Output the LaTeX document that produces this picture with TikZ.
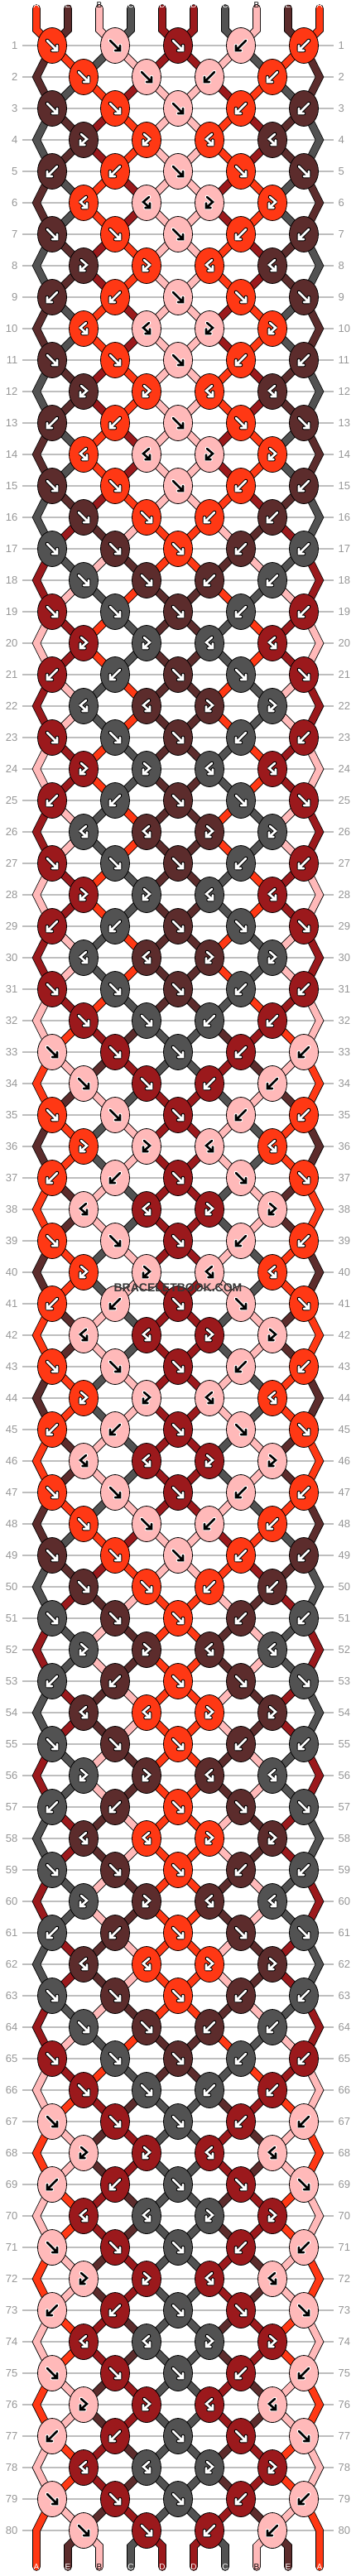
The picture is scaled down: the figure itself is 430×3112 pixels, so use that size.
\documentclass[tikz,border=0pt]{standalone}
\usepackage{fontspec}
\setmainfont{Liberation Sans}
\usepackage{xcolor}
\usetikzlibrary{shapes.geometric}

\definecolor{colA}{RGB}{255,56,20}
\definecolor{colE}{RGB}{92,44,44}
\definecolor{colB}{RGB}{255,185,185}
\definecolor{colC}{RGB}{82,82,82}
\definecolor{colD}{RGB}{155,25,28}
\definecolor{numgray}{RGB}{150,150,150}
\definecolor{linegray}{RGB}{190,190,190}
\definecolor{markgray}{RGB}{55,55,55}
\colorlet{arwfg}{white}
\colorlet{arwbg}{black}

\newcommand\knotarrow[1]{\draw[arwout] #1; \draw[arwin] #1;}

\tikzset{
  knot/.style={ellipse, draw=black, line width=0.8pt, minimum width=35pt, minimum height=43pt, inner sep=0pt},
  strand/.style={draw=black, line width=0.8pt, double=#1, double distance=8pt, line cap=round, line join=miter},
  rownum/.style={text=numgray, inner sep=0pt, font=\fontsize{13}{13}\selectfont},
  endlabel/.style={inner sep=0pt, font=\fontsize{10}{10}\selectfont},
  arwout/.style={draw=arwbg, line width=4.6pt, line cap=round, line join=round},
  arwin/.style={draw=arwfg, line width=2.6pt, line cap=round, line join=miter},
  pics/kf/.style={code={\knotarrow{(-6,-6) -- (6,6) (0,6) -- (6,6) -- (6,0)}}},
  pics/kb/.style={code={\knotarrow{(6,-6) -- (-6,6) (0,6) -- (-6,6) -- (-6,0)}}},
  pics/kfb/.style={code={\knotarrow{(-3,-7) -- (4,-1) -- (-4,6) (-4,0.5) -- (-4,6) -- (1.5,6)}}},
  pics/kbf/.style={code={\knotarrow{(3,-7) -- (-4,-1) -- (4,6) (4,0.5) -- (4,6) -- (-1.5,6)}}},
}

\begin{document}
\begin{tikzpicture}[x=1pt,y=-1pt]
\useasboundingbox (0,0) rectangle (430,3112);
\def\pinkname{B}

% row numbers and guide lines
\foreach \row in {1,...,80}{
  \pgfmathtruncatemacro\ky{55+38*(\row-1)}
  \draw[linegray, line width=1.2pt] (27,\ky) -- (403,\ky);
  \node[rownum, anchor=east] (nl\row) at (21.5,\ky) {\row};
  \node[rownum, anchor=west] (nr\row) at (408.5,\ky) {\row};
}

% strings at the top
\foreach \pp/\cc in {1/A,2/E,3/B,4/C,5/D,6/D,7/C,8/B,9/E,10/A}{
  \pgfmathtruncatemacro\sx{44+38*(\pp-1)}
  \coordinate (t\pp) at (\sx,10);
  \coordinate (u\pp) at (\sx,36);
  \coordinate (v\pp) at (\sx,3076);
  \coordinate (b\pp) at (\sx,3101);
  \expandafter\xdef\csname st\pp\endcsname{\cc}
  \expandafter\xdef\csname pt\pp\endcsname{t\pp) -- (u\pp}
}

% strings, row by row: 0 f, 1 b, 2 fb, 3 bf
\foreach \row in {1,...,80}{
  \pgfmathtruncatemacro\ky{55+38*(\row-1)}
  \pgfmathtruncatemacro\md{mod(\row,16)}
  \ifnum\md<4 \def\kt{0}\else
    \pgfmathtruncatemacro\qd{mod(\md-4,4)}
    \ifcase\qd\relax \def\kt{2}\or \def\kt{1}\or \def\kt{3}\or \def\kt{0}\fi
  \fi
  \ifodd\row\relax
    \def\pairs{1,3,5,7,9}
  \else
    \def\pairs{2,4,6,8}
    \coordinate (e\row-1) at (44,\ky);
    \coordinate (e\row-10) at (386,\ky);
    \expandafter\xdef\csname pt1\endcsname{\csname pt1\endcsname) -- (e\row-1}
    \expandafter\xdef\csname pt10\endcsname{\csname pt10\endcsname) -- (e\row-10}
  \fi
  \expandafter\xdef\csname pairs\row\endcsname{\pairs}
  \foreach \pr in \pairs {
    \pgfmathtruncatemacro\prn{\pr+1}
    \pgfmathtruncatemacro\kx{215+38*(\pr-5)}
    \ifnum\pr<5 \let\ktp\kt
    \else\ifnum\pr=5 \def\ktp{0}%
    \else\ifcase\kt\relax \def\ktp{1}\or \def\ktp{0}\or \def\ktp{3}\or \def\ktp{2}\fi
    \fi\fi
    \ifodd\ktp\relax \edef\kc{\csname st\prn\endcsname}\else \edef\kc{\csname st\pr\endcsname}\fi
    \expandafter\xdef\csname kc\row-\pr\endcsname{\kc}
    \expandafter\xdef\csname kt\row-\pr\endcsname{\ktp}
    \coordinate (c\row-\pr) at (\kx,\ky);
    \edef\tmp{\noexpand\draw[strand=col\csname st\pr\endcsname] (\csname pt\pr\endcsname) -- (c\row-\pr);
      \noexpand\draw[strand=col\csname st\prn\endcsname] (\csname pt\prn\endcsname) -- (c\row-\pr);}
    \tmp
    \expandafter\xdef\csname pt\pr\endcsname{c\row-\pr}
    \expandafter\xdef\csname pt\prn\endcsname{c\row-\pr}
    \ifnum\ktp<2
      \edef\strl{\csname st\pr\endcsname}\edef\strr{\csname st\prn\endcsname}
      \expandafter\xdef\csname st\pr\endcsname{\strr}
      \expandafter\xdef\csname st\prn\endcsname{\strl}
    \fi
  }
}

% strings at the bottom
\foreach \pp in {1,...,10}{
  \edef\tmp{\noexpand\draw[strand=col\csname st\pp\endcsname] (\csname pt\pp\endcsname) -- (v\pp) -- (b\pp);}
  \tmp
}

% knots
\foreach \row in {1,...,80}{
  \edef\pairs{\csname pairs\row\endcsname}
  \foreach \pr in \pairs {
    \edef\kc{\csname kc\row-\pr\endcsname}
    \edef\ktp{\csname kt\row-\pr\endcsname}
    \node[knot, fill=col\kc] (k\row-\pr) at (c\row-\pr) {};
    \ifx\kc\pinkname \colorlet{arwfg}{black}\colorlet{arwbg}{white}%
    \else \colorlet{arwfg}{white}\colorlet{arwbg}{black}\fi
    \ifcase\ktp\relax \def\kn{kf}\or \def\kn{kb}\or \def\kn{kfb}\or \def\kn{kbf}\fi
    \pic at (k\row-\pr.center) {\kn};
  }
}

% letters on the string ends
\foreach \pp/\cc in {1/A,2/E,3/B,4/C,5/D,6/D,7/C,8/B,9/E,10/A}{
  \ifx\cc\pinkname \def\lc{black}\else \def\lc{white}\fi
  \node[endlabel, text=\lc] (lt\pp) at ([yshift=4pt]t\pp) {\cc};
  \edef\cb{\csname st\pp\endcsname}
  \ifx\cb\pinkname \def\lc{black}\else \def\lc{white}\fi
  \node[endlabel, text=\lc] (lb\pp) at (b\pp) {\cb};
}

\node[text=markgray, font=\bfseries\fontsize{14}{14}\selectfont] (mark) at (215,1556) {BRACELETBOOK.COM};

\end{tikzpicture}
\end{document}
